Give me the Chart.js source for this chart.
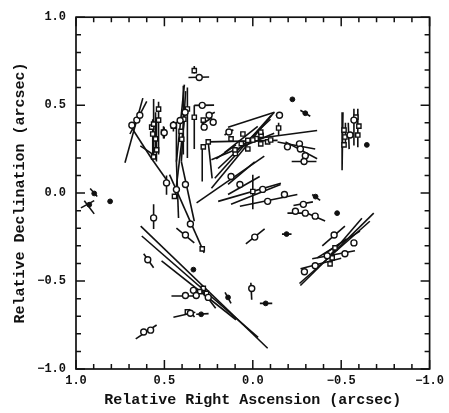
<!DOCTYPE html>
<html>
<head>
<meta charset="utf-8">
<script src="https://cdn.jsdelivr.net/npm/chart.js@4/dist/chart.umd.min.js"></script>
<style>
  html, body { margin: 0; padding: 0; background: #fff; }
  #wrap { width: 449px; height: 413px; }
</style>
</head>
<body>
<div id="wrap"><canvas id="chart" width="449" height="413"></canvas></div>
<script>
// spot positions (relative RA, relative Dec in arcsec)
const openCircles = [
  [0.684,0.386],[0.656,0.415],[0.639,0.443],[0.488,0.058],[0.501,0.343],
  [0.449,0.386],[0.411,0.413],[0.383,0.46],[0.432,0.02],[0.381,0.049],[0.353,-0.176],
  [0.381,-0.238],[0.561,-0.141],[0.303,0.657],
  [0.286,0.499],[0.247,0.443],[0.275,0.375],[0.224,0.403],
  [0.135,0.347],[0.123,0.094],[0.073,0.049],[-0.056,0.021],[-0.084,-0.047],[-0.179,-0.008],
  [-0.286,-0.064],[-0.241,-0.103],[-0.297,-0.114],[-0.353,-0.131],[-0.011,-0.25],[-0.151,0.443],
  [-0.196,0.263],[-0.264,0.28],[-0.269,0.251],[-0.297,0.212],[-0.29,0.18],
  [0.594,-0.379],
  [0.336,-0.553],[0.32,-0.582],[0.381,-0.582],[0.252,-0.593],[0.353,-0.683],[0.006,-0.542],
  [0.617,-0.79],[0.578,-0.779],
  [-0.46,-0.238],[-0.572,-0.283],[-0.521,-0.345],[-0.421,-0.356],[-0.353,-0.413],[-0.292,-0.447],
  [-0.55,0.33],[-0.572,0.415]
];
const openSquares = [
  [0.572,0.375],[0.561,0.392],[0.566,0.336],[0.55,0.308],[0.544,0.246],[0.561,0.206],
  [0.533,0.477],[0.533,0.415],[0.505,0.347],[0.449,0.381],
  [0.406,0.351],[0.402,0.306],[0.37,0.478],[0.39,0.42],[0.286,-0.317],[0.443,-0.019],
  [0.331,0.696],
  [0.331,0.431],[0.28,0.415],[0.252,0.291],[0.28,0.263],
  [0.099,0.225],[0.065,0.281],[0.028,0.30],[-0.019,0.31],[-0.047,0.328],[-0.084,0.291],
  [0.056,0.336],[0.0,0.302],[-0.045,0.347],[-0.101,0.302],[0.123,0.308],[0.028,0.251],
  [0.101,0.246],[-0.146,0.37],[0.0,0.009],[-0.045,0.28],
  [-0.516,0.358],[-0.521,0.319],[-0.516,0.274],[-0.583,0.432],[-0.6,0.381],[-0.594,0.33],
  [0.28,-0.542],[0.30,-0.56],[0.262,-0.57],[0.37,-0.675],
  [-0.465,-0.311],[-0.437,-0.402],[-0.449,-0.368]
];
const filledDots = [
  [-0.224,0.533],[-0.297,0.454],[-0.645,0.274],[-0.355,-0.02],[-0.477,-0.114],
  [-0.191,-0.233],[-0.073,-0.627],[0.292,-0.689],[0.336,-0.435],[0.14,-0.593],
  [0.807,-0.047],[0.897,-0.002],[0.925,-0.066]
];
// error bars / ellipse axes as [ra1, dec1, ra2, dec2]
const errorLines = [
  [0.723,0.173,0.622,0.540],[0.695,0.336,0.600,0.522],[0.684,0.370,0.572,0.195],
  [0.572,0.195,0.47,0.05],[0.636,0.268,0.55,0.21],[0.488,0.10,0.488,-0.01],
  [0.561,0.535,0.561,0.20],[0.533,0.52,0.533,0.22],[0.566,0.42,0.566,0.19],
  [0.545,0.40,0.545,0.18],[0.505,0.38,0.505,0.31],[0.501,0.375,0.501,0.31],
  [0.449,0.41,0.449,0.35],[0.55,0.46,0.55,0.25],
  [0.387,0.617,0.432,0.178],[0.432,0.178,0.42,-0.142],[0.37,0.60,0.37,0.2],
  [0.38,0.58,0.404,0.178],[0.404,0.178,0.331,-0.16],[0.393,0.61,0.393,0.22],
  [0.439,-0.02,0.383,0.456],[0.471,0.105,0.275,-0.34],[0.432,0.405,0.432,0.178],
  [0.432,-0.199,0.331,-0.283],[0.561,-0.064,0.561,-0.204],
  [0.331,0.722,0.331,0.68],[0.364,0.657,0.247,0.66],
  [0.331,0.499,0.219,0.50],[0.247,0.443,0.215,0.46],[0.331,0.499,0.331,0.251],
  [0.286,0.272,0.286,0.066],[0.252,0.29,0.23,0.084],[0.252,0.291,-0.14,0.30],
  [0.29,0.39,0.23,0.43],
  [0.318,-0.056,-0.065,0.21],[0.234,0.028,-0.121,0.46],[0.215,0.084,-0.103,0.441],
  [0.196,0.14,-0.10,0.42],[0.234,0.19,-0.121,0.34],[0.207,0.195,0.095,0.274],
  [0.16,0.23,-0.028,0.38],[0.16,0.33,0.11,0.36],[0.14,0.375,-0.123,0.46],
  [0.196,-0.047,-0.159,0.056],[0.123,-0.064,-0.157,0.049],[0.14,-0.008,-0.039,0.094],
  [0.14,0.049,-0.011,0.178],[0.073,-0.075,-0.252,-0.008],[0.0,0.105,0.0,-0.092],
  [0.009,0.306,-0.364,0.356],[-0.14,0.291,-0.353,0.251],[-0.185,0.291,-0.364,0.195],
  [-0.22,0.18,-0.36,0.18],[-0.146,0.40,-0.146,0.33],[-0.13,0.443,-0.17,0.443],
  [-0.269,0.471,-0.325,0.437],[-0.336,-0.008,-0.381,-0.041],[-0.23,-0.07,-0.34,-0.05],
  [-0.196,-0.114,-0.308,-0.114],[-0.308,-0.114,-0.409,-0.159],[-0.165,-0.233,-0.219,-0.233],
  [0.039,-0.289,-0.067,-0.204],
  [-0.51,0.46,-0.505,0.13],[-0.572,0.48,-0.572,0.27],[-0.594,0.48,-0.594,0.26],
  [-0.54,0.40,-0.545,0.25],[-0.524,0.40,-0.524,0.28],
  [0.972,-0.084,0.897,-0.043],[0.953,-0.043,0.897,-0.118],[0.92,0.026,0.88,-0.019],
  [0.617,-0.345,0.561,-0.424],
  [0.634,-0.188,-0.084,-0.882],[0.628,-0.244,-0.03,-0.82],[0.516,-0.385,0.095,-0.72],
  [0.46,-0.585,0.30,-0.585],[0.157,-0.565,0.123,-0.627],[0.449,-0.706,0.325,-0.677],
  [0.32,-0.689,0.25,-0.685],[0.36,-0.66,0.33,-0.705],[0.011,-0.51,0.006,-0.606],
  [-0.04,-0.627,-0.11,-0.627],[0.662,-0.829,0.544,-0.75],[0.29,-0.55,0.21,-0.655],
  [-0.684,-0.114,-0.269,-0.525],[-0.662,-0.16,-0.264,-0.514],[-0.617,-0.143,-0.44,-0.35],
  [-0.606,-0.216,-0.364,-0.368],[-0.393,-0.30,-0.521,-0.188],[-0.336,-0.373,-0.578,-0.328],
  [-0.27,-0.43,-0.50,-0.37],[-0.53,-0.26,-0.40,-0.35]
];
const axisMin = -1, axisMax = 1, majorStep = 0.5, minorStep = 0.1;
const xTitle = 'Relative Right Ascension (arcsec)';
const yTitle = 'Relative Declination (arcsec)';

const ink = '#111';
const fontFam = '"Liberation Mono", "DejaVu Sans Mono", monospace';
const toPts = arr => arr.map(p => ({ x: p[0], y: p[1] }));
const fmt = v => (v < 0 ? '\u2212' : '') + Math.abs(v).toFixed(1);

const lineSets = errorLines.map(s => ({
  type: 'scatter',
  data: [{ x: s[0], y: s[1] }, { x: s[2], y: s[3] }],
  showLine: true,
  borderColor: ink,
  borderWidth: 1.6,
  pointRadius: 0,
  order: 3
}));

// inward ticks on all four sides plus the frame
const frameTicks = {
  id: 'frameTicks',
  afterDraw(chart) {
    const { ctx, chartArea: a, scales: { x, y } } = chart;
    ctx.save();
    ctx.strokeStyle = ink;
    ctx.lineWidth = 1.7;
    ctx.strokeRect(a.left, a.top, a.right - a.left, a.bottom - a.top);
    ctx.lineWidth = 1.5;
    const n = Math.round((axisMax - axisMin) / minorStep);
    for (let i = 0; i <= n; i++) {
      const v = axisMin + i * minorStep;
      const major = Math.abs(v / majorStep - Math.round(v / majorStep)) < 1e-6;
      const len = major ? 9 : 5;
      const px = x.getPixelForValue(v), py = y.getPixelForValue(v);
      ctx.beginPath();
      ctx.moveTo(px, a.bottom); ctx.lineTo(px, a.bottom - len);
      ctx.moveTo(px, a.top); ctx.lineTo(px, a.top + len);
      ctx.moveTo(a.left, py); ctx.lineTo(a.left + len, py);
      ctx.moveTo(a.right, py); ctx.lineTo(a.right - len, py);
      ctx.stroke();
    }
    ctx.restore();
  }
};

new Chart(document.getElementById('chart'), {
  type: 'scatter',
  data: {
    datasets: [
      {
        data: toPts(openCircles), pointStyle: 'circle', pointRadius: 3,
        backgroundColor: '#fff', borderColor: ink, borderWidth: 1.4, order: 1
      },
      {
        data: toPts(openSquares), pointStyle: 'rect', pointRadius: 3,
        backgroundColor: '#fff', borderColor: ink, borderWidth: 1.4, order: 1
      },
      {
        data: toPts(filledDots), pointStyle: 'circle', pointRadius: 2.4,
        backgroundColor: ink, borderColor: ink, borderWidth: 1, order: 1
      },
      ...lineSets
    ]
  },
  options: {
    responsive: false,
    animation: false,
    layout: { padding: { top: 14, right: 16, left: 0, bottom: 0 } },
    plugins: { legend: { display: false }, tooltip: { enabled: false } },
    scales: {
      x: {
        type: 'linear', min: axisMin, max: axisMax, reverse: true,
        grid: { display: false, drawTicks: false }, border: { display: false },
        ticks: {
          stepSize: majorStep, autoSkip: false, maxRotation: 0, padding: 5,
          color: ink, font: { family: fontFam, size: 12, weight: 'bold' },
          callback: v => fmt(v)
        },
        title: {
          display: true, text: xTitle, color: ink,
          font: { family: fontFam, size: 15, weight: 'bold' },
          padding: { top: 0, bottom: 4 }
        },
        afterFit: s => { s.height = 44; }
      },
      y: {
        type: 'linear', min: axisMin, max: axisMax,
        grid: { display: false, drawTicks: false }, border: { display: false },
        ticks: {
          stepSize: majorStep, autoSkip: false, padding: 10,
          color: ink, font: { family: fontFam, size: 12, weight: 'bold' },
          callback: v => fmt(v)
        },
        title: {
          display: true, text: yTitle, color: ink,
          font: { family: fontFam, size: 15, weight: 'bold' },
          padding: { top: 11, bottom: 0 }
        },
        afterFit: s => { s.width = 76; }
      }
    }
  },
  plugins: [frameTicks]
});
</script>
</body>
</html>
